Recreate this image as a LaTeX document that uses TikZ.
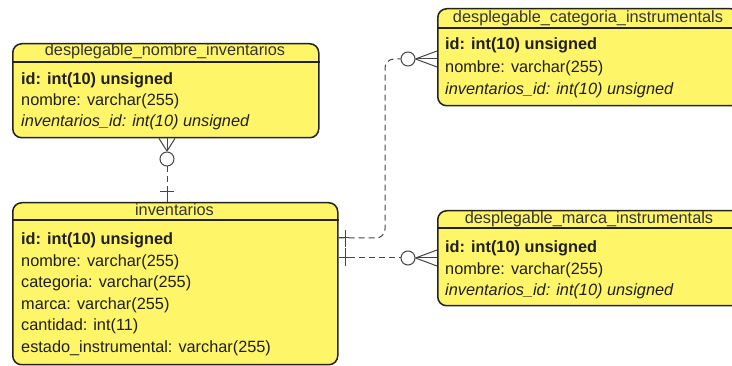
\documentclass[tikz,border=0pt]{standalone}
\usepackage{fontspec}
\setmainfont{Liberation Sans}
\definecolor{erfill}{RGB}{255,245,105}
\definecolor{erline}{RGB}{35,35,25}
\definecolor{conncol}{RGB}{70,70,70}
\begin{document}
\begin{tikzpicture}[x=1pt,y=-1pt,
  erbox/.style={draw=erline, fill=erfill, line width=1.5pt, rounded corners=9pt, inner sep=0pt, anchor=north west},
  sepline/.style={draw=erline, line width=1.2pt},
  fld/.style={anchor=base west, inner sep=0pt, font=\fontsize{16.3}{18}\selectfont, text=black!88},
  hdr/.style={anchor=base, inner sep=0pt, font=\fontsize{16.3}{18}\selectfont, text=black!80},
  conn/.style={draw=conncol, line width=1pt, dash pattern=on 6pt off 4pt},
  solidc/.style={draw=conncol, line width=1pt}]
\useasboundingbox (0,0) rectangle (732,366);
\clip (0,0) rectangle (732,366);
\fill[white] (0,0) rectangle (732,366);

% boxes
\node[erbox, minimum width=306pt, minimum height=94pt] (b1) at (12,43) {};
\node[erbox, minimum width=325pt, minimum height=162pt] (b2) at (12,202) {};
\node[erbox, minimum width=302pt, minimum height=97pt] (b3) at (437,8) {};
\node[erbox, minimum width=304pt, minimum height=95pt] (b4) at (437,210) {};

% header separators
\draw[sepline] (b1.west |- 0,62) -- (b1.east |- 0,62);
\draw[sepline] (b2.west |- 0,220) -- (b2.east |- 0,220);
\draw[sepline] (b3.west |- 0,28) -- (b3.east |- 0,28);
\draw[sepline] (b4.west |- 0,228) -- (b4.east |- 0,228);

% box 1
\node[hdr] (h1) at (165,56) {desplegable\_nombre\_inventarios};
\node[fld] (f11) at (21,85) {\bfseries id: int(10) unsigned};
\node[fld] (f12) at (21,106) {nombre: varchar(255)};
\node[fld] (f13) at (21,127) {\itshape inventarios\_id: int(10) unsigned};

% box 2
\node[hdr] (h2) at (174.5,216) {inventarios};
\node[fld] (f21) at (21,245) {\bfseries id: int(10) unsigned};
\node[fld] (f22) at (21,266.5) {nombre: varchar(255)};
\node[fld] (f23) at (21,288) {categoria: varchar(255)};
\node[fld] (f24) at (21,309.5) {marca: varchar(255)};
\node[fld] (f25) at (21,331) {cantidad: int(11)};
\node[fld] (f26) at (21,352.5) {estado\_instrumental: varchar(255)};

% box 3
\node[hdr] (h3) at (588,23) {desplegable\_categoria\_instrumentals};
\node[fld] (f31) at (445,50) {\bfseries id: int(10) unsigned};
\node[fld] (f32) at (445,72.5) {nombre: varchar(255)};
\node[fld] (f33) at (445,95) {\itshape inventarios\_id: int(10) unsigned};

% box 4
\node[hdr] (h4) at (589,224) {desplegable\_marca\_instrumentals};
\node[fld] (f41) at (445,252.5) {\bfseries id: int(10) unsigned};
\node[fld] (f42) at (445,274.5) {nombre: varchar(255)};
\node[fld] (f43) at (445,296) {\itshape inventarios\_id: int(10) unsigned};

% connector b1 -- b2
\coordinate (v) at (167,0);
\coordinate (ap1) at (167,151);
\draw[solidc] (v |- b1.south) ++(-8,0) -- (ap1);
\draw[solidc] (v |- b1.south) -- (ap1);
\draw[solidc] (v |- b1.south) ++(8,0) -- (ap1);
\node[draw=conncol, line width=1pt, circle, inner sep=0pt, minimum size=14pt, fill=white] (o1) at (167,159) {};
\draw[conn] (o1.south) -- (v |- b2.north);
\draw[solidc] (160,192) -- (174,192);
\draw[solidc] (167,187) -- (v |- b2.north);

% connector b2 -- b3
\coordinate (s3) at (b2.east |- 0,238);
\node[draw=conncol, line width=1pt, circle, inner sep=0pt, minimum size=14pt] (o3) at (408,59) {};
\draw[conn, rounded corners=9pt] (s3) -- (385,238) -- (385,59) -- (o3.west);
\draw[solidc] (s3) -- ++(10,0);
\draw[solidc] (345,230) -- (345,247.5);
\draw[solidc] (o3.east) -- (b3.west |- 0,51);
\draw[solidc] (o3.east) -- (b3.west |- 0,59);
\draw[solidc] (o3.east) -- (b3.west |- 0,67);

% connector b2 -- b4
\coordinate (s4) at (b2.east |- 0,258);
\node[draw=conncol, line width=1pt, circle, inner sep=0pt, minimum size=14pt] (o4) at (408,258) {};
\draw[conn] (s4) -- (o4.west);
\draw[solidc] (s4) -- ++(10,0);
\draw[solidc] (345,248.5) -- (345,266);
\draw[solidc] (o4.east) -- (b4.west |- 0,250);
\draw[solidc] (o4.east) -- (b4.west |- 0,258);
\draw[solidc] (o4.east) -- (b4.west |- 0,266);
\end{tikzpicture}
\end{document}
